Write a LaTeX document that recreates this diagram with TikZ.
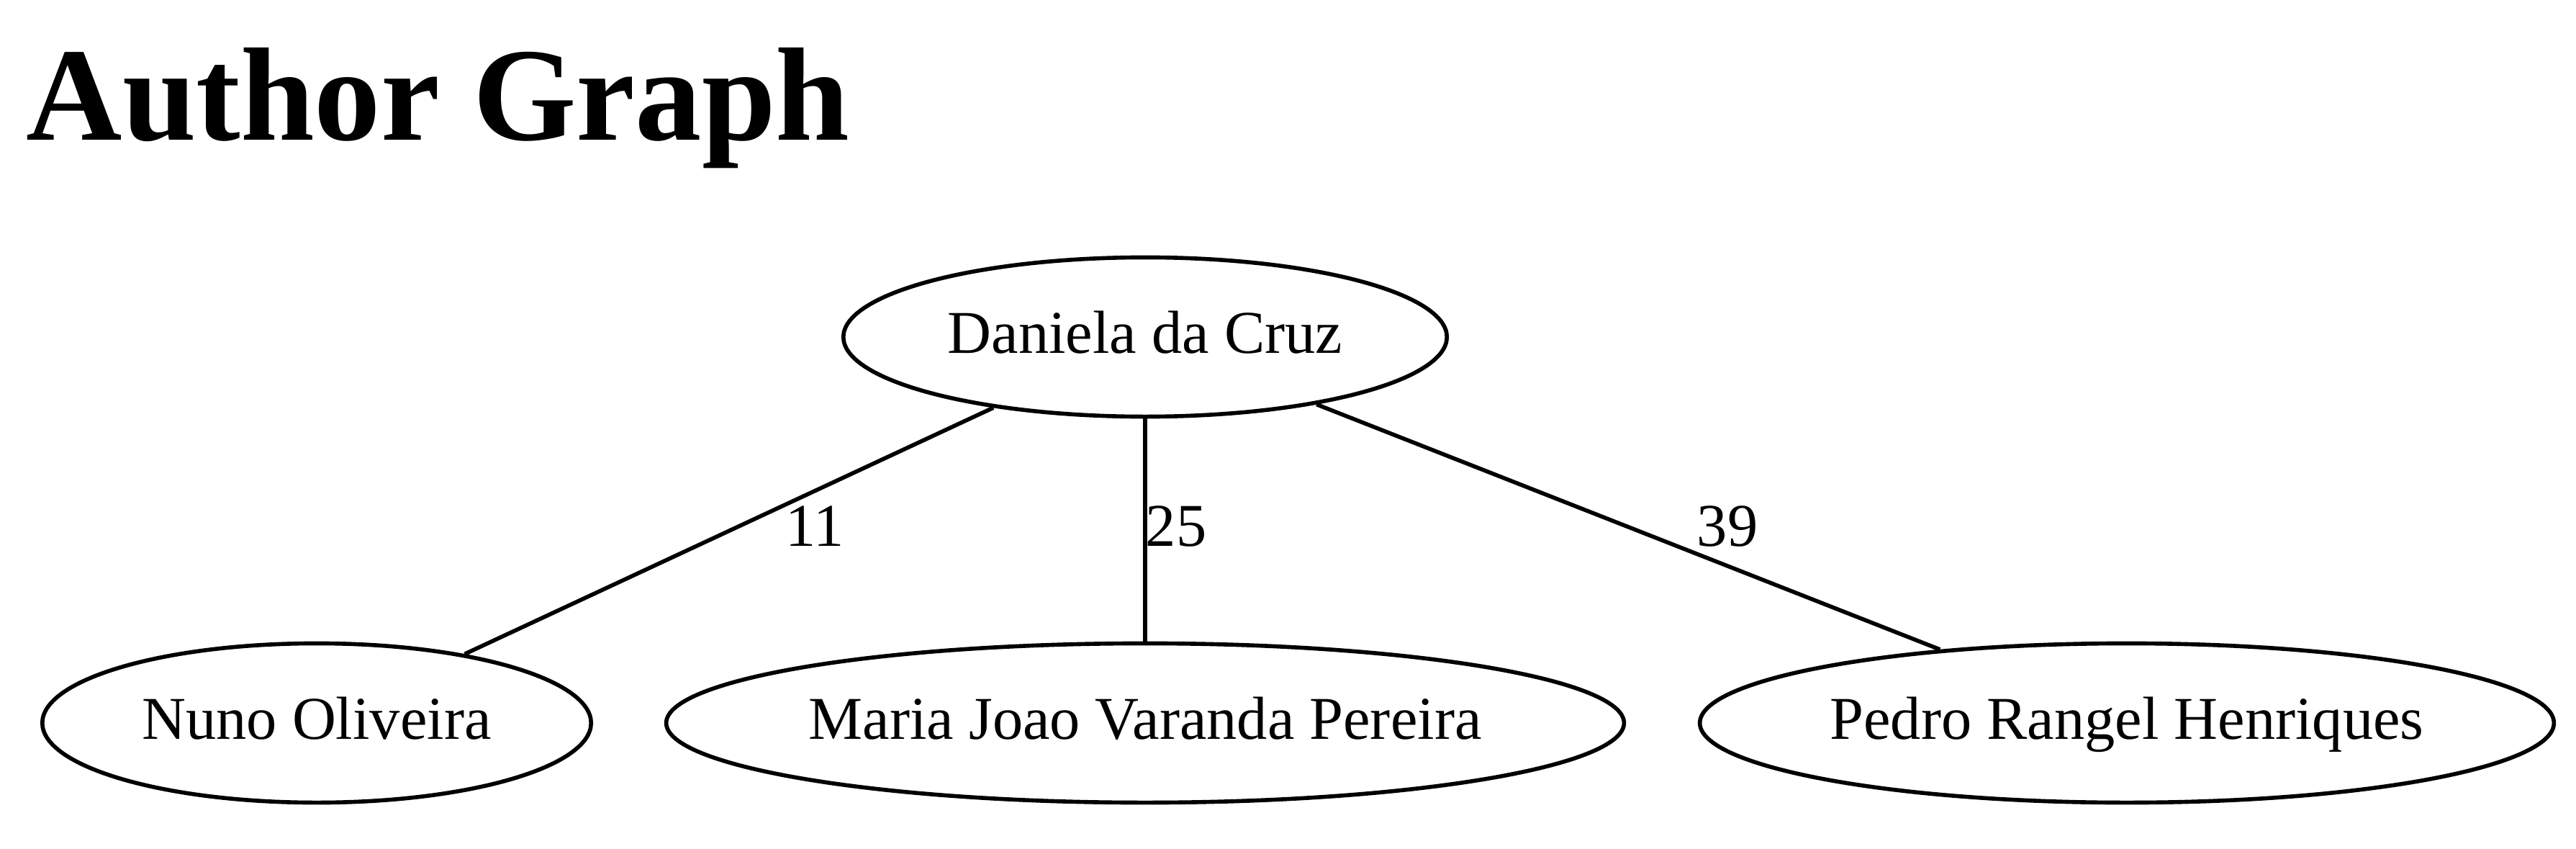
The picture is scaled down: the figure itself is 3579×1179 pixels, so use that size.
\documentclass[tikz,border=0pt]{standalone}
\usepackage{fontspec}
\setmainfont{Liberation Serif}
\usetikzlibrary{shapes.geometric}

\begin{document}
\begin{tikzpicture}[x=0.01cm,y=-0.01cm,
		author/.style={draw,ellipse,line width=1.6pt,inner sep=0pt,minimum height=2.21cm,text height=0.62cm,text depth=0.18cm,font=\fontsize{24}{28}\selectfont},
		weight/.style={inner sep=0pt,font=\fontsize{24}{28}\selectfont},
		link/.style={line width=1.6pt}]
				\useasboundingbox (0,0) rectangle (3579,1179);
				\node[anchor=base west,inner sep=0pt,font=\fontsize{52.5}{60}\selectfont\bfseries] (title) at (36,195) {Author Graph};
				\node[author,minimum width=8.38cm] (dcruz) at (1591,468) {Daniela da Cruz};
				\node[author,minimum width=7.62cm] (noliveira) at (440,1004) {Nuno Oliveira};
				\node[author,minimum width=13.3cm] (mpereira) at (1591,1004) {Maria Joao Varanda Pereira};
				\node[author,minimum width=11.86cm] (phenriques) at (2955,1004) {Pedro Rangel Henriques};
				\draw[link] (dcruz) -- (noliveira);
				\draw[link] (dcruz) -- (mpereira);
				\draw[link] (dcruz) -- (phenriques);
				\node[weight] (w11) at (1132,731) {11};
				\node[weight] (w25) at (1634,731) {25};
				\node[weight] (w39) at (2400,731) {39};
			\end{tikzpicture}
\end{document}
